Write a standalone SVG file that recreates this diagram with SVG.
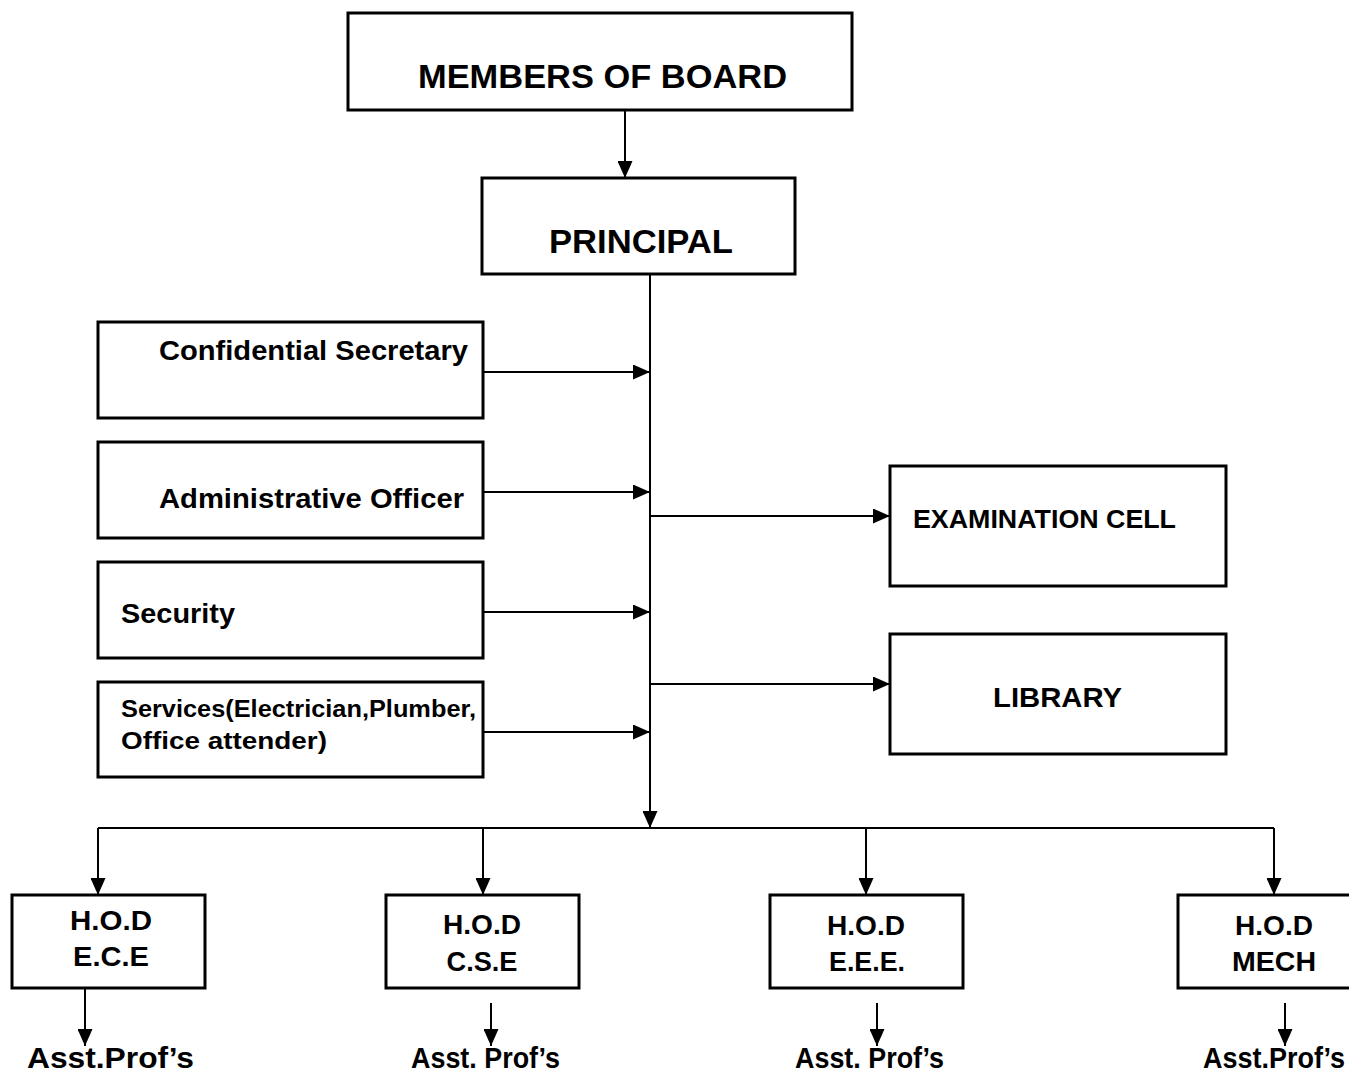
<svg xmlns="http://www.w3.org/2000/svg" width="1349" height="1073" viewBox="0 0 1349 1073">
<defs>
<style>
.box{fill:#fff;stroke:#000;stroke-width:3}
.t{font-family:"Liberation Sans",Arial,sans-serif;font-weight:bold;fill:#000}
.big{font-size:34px}
.mid{font-size:28px}
.sm{font-size:24px}
.ex{font-size:25px}
.hod{font-size:27px}
.ap{font-size:29px}
.ln{stroke:#000;stroke-width:2;fill:none}
.ar{stroke:#000;stroke-width:2;fill:none;marker-end:url(#ah)}
</style>
<marker id="ah" markerUnits="userSpaceOnUse" markerWidth="17" markerHeight="15" refX="17" refY="7.5" orient="auto">
<path d="M0,0 L17,7.5 L0,15 z" fill="#000"/>
</marker>
</defs>
<rect width="1349" height="1073" fill="#fff"/>
<g id="connectors">
<line class="ar" x1="625" y1="110" x2="625" y2="178"/>
<line class="ar" x1="650" y1="274" x2="650" y2="828"/>
<line class="ar" x1="483" y1="372" x2="650" y2="372"/>
<line class="ar" x1="483" y1="492" x2="650" y2="492"/>
<line class="ar" x1="483" y1="612" x2="650" y2="612"/>
<line class="ar" x1="483" y1="732" x2="650" y2="732"/>
<line class="ar" x1="650" y1="516" x2="890" y2="516"/>
<line class="ar" x1="650" y1="684" x2="890" y2="684"/>
<line class="ln" x1="98" y1="828" x2="1274" y2="828"/>
<line class="ar" x1="98" y1="828" x2="98" y2="895"/>
<line class="ar" x1="483" y1="828" x2="483" y2="895"/>
<line class="ar" x1="866" y1="828" x2="866" y2="895"/>
<line class="ar" x1="1274" y1="828" x2="1274" y2="895"/>
<line class="ar" x1="85" y1="978" x2="85" y2="1046"/>
<line class="ar" x1="491" y1="1003" x2="491" y2="1046"/>
<line class="ar" x1="877" y1="1003" x2="877" y2="1046"/>
<line class="ar" x1="1285" y1="1003" x2="1285" y2="1046"/>
</g>
<g id="members"><rect class="box" x="348" y="13" width="504" height="97"/><text class="t big" x="418" y="88" textLength="369" lengthAdjust="spacingAndGlyphs">MEMBERS OF BOARD</text></g>
<g id="principal"><rect class="box" x="482" y="178" width="313" height="96"/><text class="t big" x="549" y="253" textLength="184" lengthAdjust="spacingAndGlyphs">PRINCIPAL</text></g>
<g id="secretary"><rect class="box" x="98" y="322" width="385" height="96"/><text class="t mid" x="159" y="360" textLength="309" lengthAdjust="spacingAndGlyphs">Confidential Secretary</text></g>
<g id="admin"><rect class="box" x="98" y="442" width="385" height="96"/><text class="t mid" x="159" y="508" textLength="305" lengthAdjust="spacingAndGlyphs">Administrative Officer</text></g>
<g id="security"><rect class="box" x="98" y="562" width="385" height="96"/><text class="t mid" x="121" y="623" textLength="114" lengthAdjust="spacingAndGlyphs">Security</text></g>
<g id="services"><rect class="box" x="98" y="682" width="385" height="95"/><text class="t sm" x="121" y="717" textLength="355" lengthAdjust="spacingAndGlyphs">Services(Electrician,Plumber,</text><text class="t sm" x="121" y="749" textLength="206" lengthAdjust="spacingAndGlyphs">Office attender)</text></g>
<g id="exam"><rect class="box" x="890" y="466" width="336" height="120"/><text class="t ex" x="913" y="528" textLength="263" lengthAdjust="spacingAndGlyphs">EXAMINATION CELL</text></g>
<g id="library"><rect class="box" x="890" y="634" width="336" height="120"/><text class="t mid" x="993" y="707" textLength="129" lengthAdjust="spacingAndGlyphs">LIBRARY</text></g>
<g id="hod-ece"><rect class="box" x="12" y="895" width="193" height="93"/><text class="t hod" x="111" y="930" text-anchor="middle" textLength="82" lengthAdjust="spacingAndGlyphs">H.O.D</text><text class="t hod" x="111" y="966" text-anchor="middle" textLength="76" lengthAdjust="spacingAndGlyphs">E.C.E</text></g>
<g id="hod-cse"><rect class="box" x="386" y="895" width="193" height="93"/><text class="t hod" x="482" y="934" text-anchor="middle" textLength="78" lengthAdjust="spacingAndGlyphs">H.O.D</text><text class="t hod" x="482" y="971" text-anchor="middle" textLength="71" lengthAdjust="spacingAndGlyphs">C.S.E</text></g>
<g id="hod-eee"><rect class="box" x="770" y="895" width="193" height="93"/><text class="t hod" x="866" y="935" text-anchor="middle" textLength="78" lengthAdjust="spacingAndGlyphs">H.O.D</text><text class="t hod" x="867" y="971" text-anchor="middle" textLength="76" lengthAdjust="spacingAndGlyphs">E.E.E.</text></g>
<g id="hod-mech"><rect class="box" x="1178" y="895" width="175" height="93"/><text class="t hod" x="1274" y="935" text-anchor="middle" textLength="78" lengthAdjust="spacingAndGlyphs">H.O.D</text><text class="t hod" x="1274" y="971" text-anchor="middle" textLength="84" lengthAdjust="spacingAndGlyphs">MECH</text></g>
<g id="ap-ece"><text class="t ap" x="27" y="1068" textLength="167" lengthAdjust="spacingAndGlyphs">Asst.Prof’s</text></g>
<g id="ap-cse"><text class="t ap" x="411" y="1068" textLength="149" lengthAdjust="spacingAndGlyphs">Asst. Prof’s</text></g>
<g id="ap-eee"><text class="t ap" x="795" y="1068" textLength="149" lengthAdjust="spacingAndGlyphs">Asst. Prof’s</text></g>
<g id="ap-mech"><text class="t ap" x="1203" y="1068" textLength="142" lengthAdjust="spacingAndGlyphs">Asst.Prof’s</text></g>
</svg>
